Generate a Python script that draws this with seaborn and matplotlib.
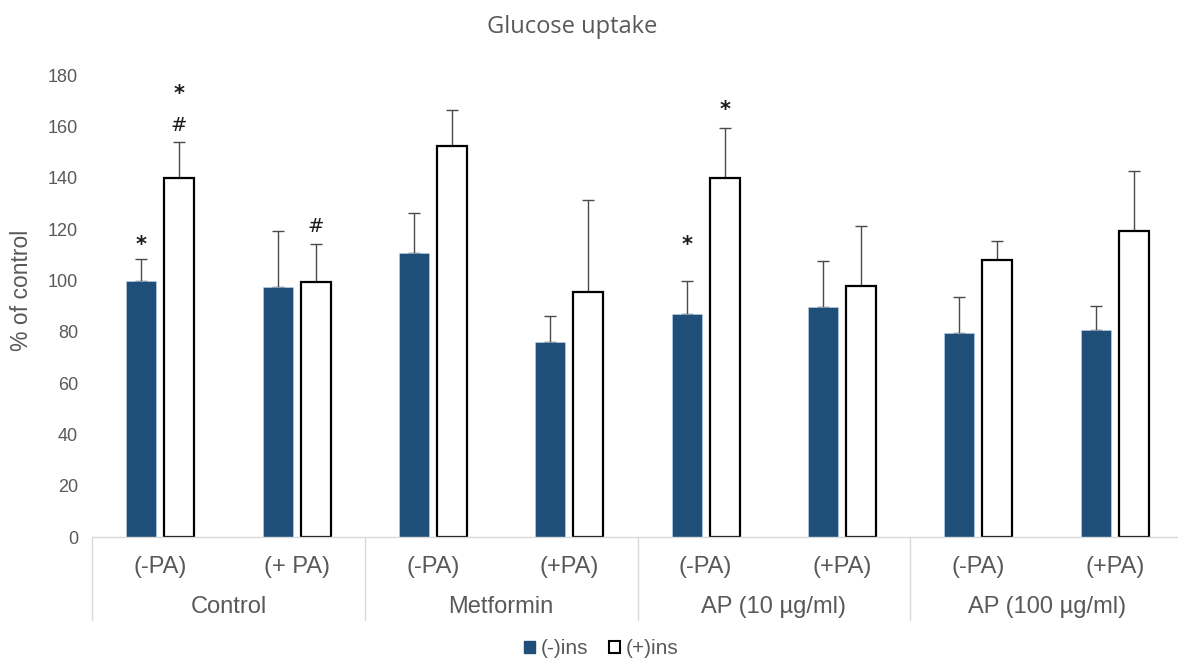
import numpy as np
import pandas as pd
import matplotlib
matplotlib.use("Agg")
import matplotlib.pyplot as plt
import matplotlib.transforms as mtransforms
from matplotlib.patches import Patch
import seaborn as sns

# ---------------- data ----------------
groups = ["Control", "Metformin", "AP (10 \u00b5g/ml)", "AP (100 \u00b5g/ml)"]
sub_labels = ["(-PA)", "(+ PA)", "(-PA)", "(+PA)", "(-PA)", "(+PA)", "(-PA)", "(+PA)"]
series_names = ["(-)ins", "(+)ins"]
minus_ins = [99.7, 97.5, 110.7, 76.0, 86.9, 89.5, 79.3, 80.8]
minus_ins_err = [8.7, 21.8, 15.4, 10.0, 12.7, 18.1, 14.2, 9.3]
plus_ins = [139.9, 99.2, 152.2, 95.6, 139.7, 97.7, 108.0, 119.3]
plus_ins_err = [13.9, 15.1, 14.0, 35.6, 19.5, 23.6, 7.4, 23.2]
y_ticks = [0, 20, 40, 60, 80, 100, 120, 140, 160, 180]

# significance marks: (slot index, series index, text, value level)
annot_slot = [0, 0, 0, 1, 4, 4]
annot_series = [0, 1, 1, 1, 0, 1]
annot_text = ["*", "*", "#", "#", "*", "*"]
annot_level = [115.7, 174.5, 160.9, 121.5, 115.7, 168.3]

# ---------------- build table ----------------
slot_keys = [f"s{i}" for i in range(len(sub_labels))]
df = pd.DataFrame({
    "slot": slot_keys * 2,
    "ins": [series_names[0]] * len(slot_keys) + [series_names[1]] * len(slot_keys),
    "value": minus_ins + plus_ins,
    "err": minus_ins_err + plus_ins_err,
})

sns.set_theme(style="white")
plt.rcParams["font.family"] = ["Liberation Sans", "DejaVu Sans"]

dark = "#1F4E79"
txt_gray = "#595959"

fig = plt.figure(figsize=(11.78, 6.59), dpi=100)
left = 92 / 1178
bottom = (659 - 537) / 659
width = (1183 - 92) / 1178
height = (537 - 75) / 659
ax = fig.add_axes([left, bottom, width, height])

sns.barplot(data=df, x="slot", y="value", hue="ins", order=slot_keys,
            hue_order=series_names, palette=[dark, "white"],
            width=0.557, gap=0.21, errorbar=None, legend=False, ax=ax,
            saturation=1)

bar_containers = list(ax.containers)
centers = {}
for si, cont in enumerate(bar_containers):
    errs = minus_ins_err if si == 0 else plus_ins_err
    vals = minus_ins if si == 0 else plus_ins
    xs = []
    for i, p in enumerate(cont.patches):
        cx = p.get_x() + p.get_width() / 2
        xs.append(cx)
        centers[(i, si)] = cx
        p.set_zorder(2)
        if si == 0:
            p.set_facecolor(dark)
            p.set_edgecolor("#BDD7EE")
            p.set_linewidth(0.4)
        else:
            p.set_facecolor("white")
            p.set_edgecolor("black")
            p.set_linewidth(1.6)
    ax.errorbar(xs, vals, yerr=[np.zeros(len(errs)), errs], fmt="none",
                ecolor="#4a4a4a", elinewidth=1.0, capsize=4.0, capthick=1.0,
                zorder=0.5)

# annotations
for s, h, t, lv in zip(annot_slot, annot_series, annot_text, annot_level):
    if t == "*":
        off, fs, fw = 8.0, 15, "bold"
    else:
        off, fs, fw = 5.0, 14, "normal"
    ax.annotate(t, xy=(centers[(s, h)], lv), xytext=(0, -off),
                textcoords="offset points", ha="center", va="baseline",
                fontsize=fs, fontweight=fw, color="#1a1a1a", family="DejaVu Sans")

ax.set_ylim(0, 180)
ax.set_xlim(-0.5, len(slot_keys) - 0.5)
ax.set_yticks(y_ticks)
ax.set_yticklabels([str(v) for v in y_ticks], color=txt_gray, fontsize=13)
ax.tick_params(axis="y", length=0, pad=10)
ax.set_xticks([])
ax.set_xlabel("")
ax.set_ylabel("")
for side in ["left", "right", "top"]:
    ax.spines[side].set_visible(False)
ax.spines["bottom"].set_color("#D9D9D9")
ax.spines["bottom"].set_linewidth(1.0)

# category axis labels (two levels)
trans = mtransforms.blended_transform_factory(ax.transData, ax.transAxes)
y_sub = -(567 - 537) / 462
y_grp = -(607 - 537) / 462
y_sep = -(620 - 537) / 462
for i, lab in enumerate(sub_labels):
    ax.text(i, y_sub, lab, transform=trans, ha="center", va="center",
            fontsize=17, color=txt_gray)
for g, lab in enumerate(groups):
    ax.text(2 * g + 0.5, y_grp, lab, transform=trans, ha="center", va="center",
            fontsize=17, color=txt_gray)
for b in range(len(groups) + 1):
    xb = 2 * b - 0.5
    ax.plot([xb, xb], [0, y_sep], transform=trans, color="#D9D9D9", lw=1.0,
            clip_on=False)

# title and y label
fig.text(572 / 1178, 1 - 27 / 659, "Glucose uptake", ha="center", va="center",
         fontsize=17, color=txt_gray, family=["Open Sans", "DejaVu Sans"])
fig.text(22 / 1178, 1 - 290 / 659, "% of control", rotation=90, ha="center",
         va="center", fontsize=16.5, color=txt_gray)

# legend
handles = [Patch(facecolor=dark, edgecolor=dark, label=series_names[0]),
           Patch(facecolor="white", edgecolor="black", linewidth=1.5,
                 label=series_names[1])]
leg = fig.legend(handles=handles, loc="center", bbox_to_anchor=(601 / 1178, 1 - 649 / 659),
                 ncol=2, frameon=False, fontsize=15, handlelength=0.55,
                 handleheight=0.55, handletextpad=0.25, columnspacing=1.0,
                 labelcolor=txt_gray)

fig.savefig("out.png", dpi=100)
